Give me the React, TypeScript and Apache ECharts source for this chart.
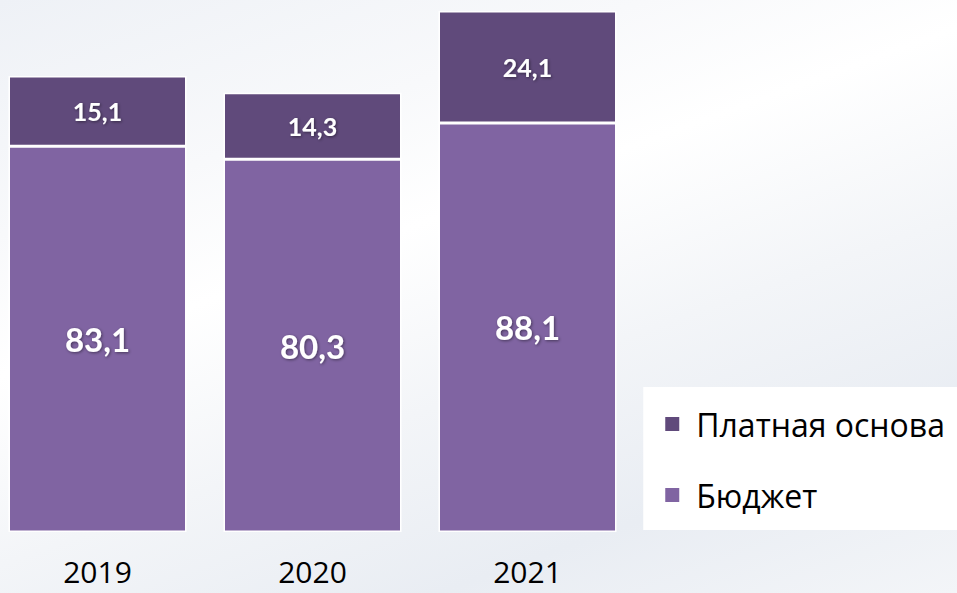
import React, { useEffect, useRef } from "react";
import * as echarts from "echarts";

const categories = ["2019", "2020", "2021"];
const budget = [83.1, 80.3, 88.1];
const paid = [15.1, 14.3, 24.1];
const seriesNames = ["Платная основа", "Бюджет"];

const fmt = (v: number) => v.toFixed(1).replace(".", ",");

export default function App() {
  const ref = useRef<HTMLDivElement>(null);
  useEffect(() => {
    if (!ref.current) return;
    const chart = echarts.init(ref.current, undefined, { renderer: "svg" });
    const labelBase = {
      show: true,
      position: "inside" as const,
      color: "#ffffff",
      fontWeight: "bold" as const,
      fontFamily: "Lato, 'Open Sans', sans-serif",
      textShadowColor: "rgba(0,0,0,0.45)",
      textShadowBlur: 3,
      textShadowOffsetX: 1,
      textShadowOffsetY: 1,
      formatter: (p: any) => fmt(p.value),
    };
    chart.setOption({
      animation: false,
      backgroundColor: "transparent",
      grid: { left: 0, right: 322, top: 11, bottom: 61 },
      legend: {
        orient: "vertical",
        right: 0,
        top: 387,
        backgroundColor: "#ffffff",
        padding: [19, 12, 17, 20],
        itemWidth: 16,
        itemHeight: 16,
        itemGap: 35,
        icon: "rect",
        data: seriesNames,
        textStyle: {
          fontSize: 32,
          lineHeight: 36,
          color: "#000000",
          fontFamily: "'Open Sans', sans-serif",
          padding: [0, 0, 0, 11],
        },
      },
      xAxis: {
        type: "category",
        data: categories,
        axisLine: { show: false },
        axisTick: { show: false },
        axisLabel: {
          fontSize: 30,
          lineHeight: 30,
          color: "#000000",
          margin: 24,
          fontFamily: "'Open Sans', sans-serif",
        },
      },
      yAxis: {
        type: "value",
        min: 0,
        max: 112.2,
        show: false,
        splitLine: { show: false },
      },
      series: [
        {
          name: "Бюджет",
          type: "bar",
          stack: "total",
          data: budget,
          barWidth: 178,
          itemStyle: { color: "#8064A2", borderColor: "#ffffff", borderWidth: 1.5 },
          label: { ...labelBase, fontSize: 33 },
        },
        {
          name: "Платная основа",
          type: "bar",
          stack: "total",
          data: paid,
          barWidth: 178,
          itemStyle: { color: "#604A7B", borderColor: "#ffffff", borderWidth: 1.5 },
          label: { ...labelBase, fontSize: 25 },
        },
      ],
    });
    return () => chart.dispose();
  }, []);
  return (
    <div
      style={{
        position: "fixed",
        left: 0,
        top: 0,
        width: 957,
        height: 593,
        overflow: "hidden",
        background:
          "linear-gradient(160deg, #eef1f6 0%, #f8f9fb 25%, #ffffff 40%, #f3f5f8 60%, #e9edf3 80%, #f3f5f8 100%)",
      }}
    >
      <div
        ref={ref}
        style={{ position: "absolute", left: -10, top: 0, width: 967, height: 593 }}
      />
    </div>
  );
}
